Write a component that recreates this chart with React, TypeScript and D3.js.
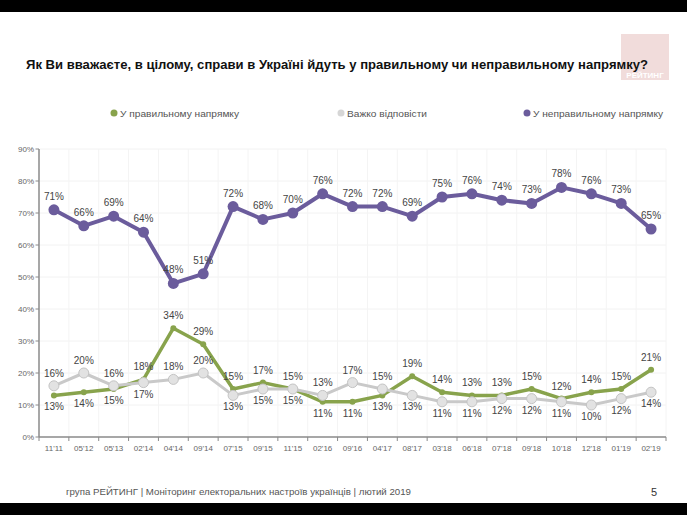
import React from "react";
import * as d3 from "d3";

const categories = ["11'11", "05'12", "05'13", "02'14", "04'14", "09'14", "07'15", "09'15", "11'15", "02'16", "09'16", "04'17", "08'17", "03'18", "06'18", "07'18", "09'18", "10'18", "12'18", "01'19", "02'19"];
const rightDirection = [13, 14, 15, 18, 34, 29, 15, 17, 15, 11, 11, 13, 19, 14, 13, 13, 15, 12, 14, 15, 21];
const hardToSay = [16, 20, 16, 17, 18, 20, 13, 15, 15, 13, 17, 15, 13, 11, 11, 12, 12, 11, 10, 12, 14];
const wrongDirection = [71, 66, 69, 64, 48, 51, 72, 68, 70, 76, 72, 72, 69, 75, 76, 74, 73, 78, 76, 73, 65];
const yTicks = [0, 10, 20, 30, 40, 50, 60, 70, 80, 90];
const seriesNames = ["У правильному напрямку", "Важко відповісти", "У неправильному напрямку"];

const W = 687;
const H = 515;
const FONT = "'Liberation Sans', Arial, sans-serif";

export default function App() {
  const x = d3.scaleBand<string>().domain(categories).range([39, 666]).padding(0);
  const y = d3.scaleLinear().domain([0, 90]).range([437, 149]);
  const cx = (i: number) => (x(categories[i]) as number) + x.bandwidth() / 2;
  const line = d3
    .line<number>()
    .x((_, i) => cx(i))
    .y((d) => y(d));

  const green = "#88a34c";
  const gray = "#c9c9c9";
  const purple = "#6b5c9c";
  const labelColor = "#444";

  const edges = categories.map((c) => x(c) as number).concat([x.range()[1]]);

  return (
    <div style={{ position: "fixed", left: 0, top: 0, width: W, height: H, background: "#fff" }}>
      <svg width={W} height={H} style={{ display: "block" }} fontFamily={FONT}>
        <rect x={0} y={0} width={W} height={H} fill="#fff" />
        <rect x={0} y={0} width={W} height={12} fill="#000" />
        <rect x={0} y={503} width={W} height={12} fill="#000" />

        {/* logo */}
        <rect x={621} y={34} width={48} height={46} fill="#f1dcdb" />
        <text x={645} y={78} fill="#fff" fontSize={8} fontWeight="bold" textAnchor="middle">РЕЙТИНГ</text>

        {/* title */}
        <text x={26} y={69} fontSize={13} fontWeight="bold" fill="#111" textLength={622} lengthAdjust="spacingAndGlyphs">
          Як Ви вважаєте, в цілому, справи в Україні йдуть у правильному чи неправильному напрямку?
        </text>

        {/* legend */}
        {[
          { c: green, x: 114, name: seriesNames[0], w: 119 },
          { c: "#d6d6d6", x: 341, name: seriesNames[1], w: 80 },
          { c: purple, x: 527, name: seriesNames[2], w: 130 },
        ].map((l, i) => (
          <g key={i}>
            <circle cx={l.x} cy={113} r={3.5} fill={l.c} />
            <text x={l.x + 6} y={116.5} fontSize={9.5} fill="#555" textLength={l.w} lengthAdjust="spacingAndGlyphs">
              {l.name}
            </text>
          </g>
        ))}

        {/* faint grid */}
        {yTicks.slice(1).map((t) => (
          <line key={"gy" + t} x1={40} x2={666} y1={y(t)} y2={y(t)} stroke="#f2f2f2" strokeWidth={1} />
        ))}
        {edges.slice(1).map((e, i) => (
          <line key={"gx" + i} x1={e} x2={e} y1={149} y2={437} stroke="#f4f4f4" strokeWidth={1} />
        ))}

        {/* y axis */}
        <line x1={39} x2={39} y1={149} y2={437} stroke="#8a8a8a" strokeWidth={1.5} />
        {yTicks.map((t) => (
          <g key={"yt" + t}>
            <line x1={35.5} x2={39} y1={y(t)} y2={y(t)} stroke="#8a8a8a" strokeWidth={1} />
            <text x={34} y={y(t) + 3} fontSize={8} fill="#666" textAnchor="end">{t}%</text>
          </g>
        ))}

        {/* x axis */}
        <line x1={39} x2={666} y1={437} y2={437} stroke="#8a8a8a" strokeWidth={1.5} />
        {edges.map((e, i) => (
          <line key={"xt" + i} x1={e} x2={e} y1={437} y2={441} stroke="#8a8a8a" strokeWidth={1} />
        ))}
        {categories.map((c, i) => (
          <text key={"xl" + c} x={cx(i)} y={451} fontSize={8} fill="#666" textAnchor="middle">{c}</text>
        ))}

        {/* green series */}
        <path d={line(rightDirection) || ""} fill="none" stroke={green} strokeWidth={3.5} strokeLinejoin="round" />
        {rightDirection.map((v, i) => (
          <circle key={"gm" + i} cx={cx(i)} cy={y(v)} r={3} fill={green} />
        ))}

        {/* gray series */}
        <path d={line(hardToSay) || ""} fill="none" stroke={gray} strokeWidth={3} strokeLinejoin="round" />
        {hardToSay.map((v, i) => (
          <circle key={"hm" + i} cx={cx(i)} cy={y(v)} r={5} fill="#e2e2e2" stroke="#c4c4c4" strokeWidth={1} />
        ))}

        {/* purple series */}
        <path d={line(wrongDirection) || ""} fill="none" stroke={purple} strokeWidth={4} strokeLinejoin="round" />
        {wrongDirection.map((v, i) => (
          <circle key={"pm" + i} cx={cx(i)} cy={y(v)} r={5.5} fill={purple} />
        ))}

        {/* labels */}
        {wrongDirection.map((v, i) => (
          <text key={"pl" + i} x={cx(i)} y={y(v) - 10} fontSize={10} fill={labelColor} textAnchor="middle">{v}%</text>
        ))}
        {rightDirection.map((v, i) => {
          const above = v >= hardToSay[i];
          return (
            <text key={"gl" + i} x={cx(i)} y={above ? y(v) - 9 : y(v) + 15} fontSize={10} fill={labelColor} textAnchor="middle">{v}%</text>
          );
        })}
        {hardToSay.map((v, i) => {
          const above = v > rightDirection[i] || rightDirection[i] - v >= 8;
          return (
            <text key={"hl" + i} x={cx(i)} y={above ? y(v) - 9 : y(v) + 15} fontSize={10} fill={labelColor} textAnchor="middle">{v}%</text>
          );
        })}

        {/* footer */}
        <text x={66} y={495} fontSize={9} fill="#555" textLength={345} lengthAdjust="spacingAndGlyphs">
          група РЕЙТИНГ | Моніторинг електоральних настроїв українців | лютий 2019
        </text>
        <text x={651} y={496} fontSize={11} fill="#333">5</text>
      </svg>
    </div>
  );
}
